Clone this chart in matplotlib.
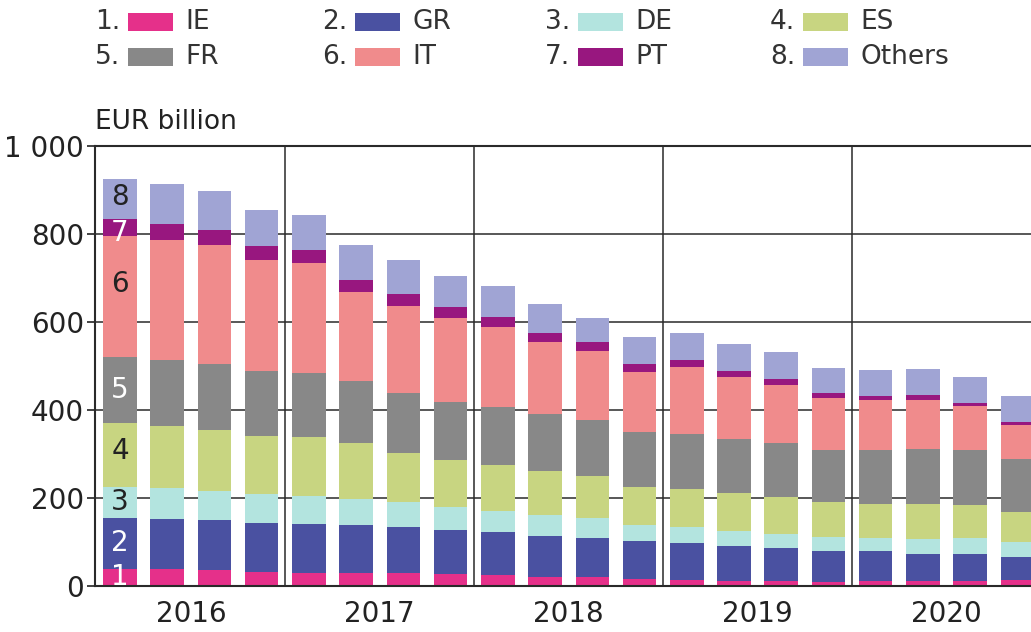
import matplotlib
matplotlib.use("Agg")
import matplotlib.pyplot as plt
from matplotlib.patches import Rectangle
import numpy as np

years = ["2016", "2017", "2018", "2019", "2020"]
countries = ["IE", "GR", "DE", "ES", "FR", "IT", "PT", "Others"]
colors = ["#e5308a", "#4a51a1", "#b3e4df", "#c8d581", "#888888",
          "#f08b8c", "#98177f", "#a0a4d4"]
label_colors = ["white", "white", "#222222", "#222222", "white",
                "#222222", "white", "#222222"]

# quarterly values, EUR billion, 2016 Q1 .. 2020 Q4
IE = [39, 39, 36, 31, 30, 30, 29, 27, 25, 20, 20, 16, 14, 12, 11, 10, 11, 11, 12, 14]
GR = [116, 114, 114, 112, 111, 108, 106, 101, 98, 94, 89, 86, 83, 80, 75, 70, 69, 62, 60, 51]
DE = [71, 69, 67, 65, 64, 60, 55, 52, 48, 48, 45, 36, 36, 32, 32, 32, 30, 34, 36, 34]
ES = [145, 142, 138, 134, 133, 128, 113, 106, 104, 99, 95, 88, 87, 87, 84, 78, 77, 79, 76, 69]
FR = [150, 150, 149, 147, 146, 141, 136, 133, 132, 131, 129, 124, 125, 122, 124, 118, 121, 126, 124, 120]
IT = [275, 272, 272, 251, 250, 201, 198, 189, 181, 162, 157, 136, 152, 141, 131, 119, 114, 111, 100, 77]
PT = [37, 37, 34, 33, 30, 28, 26, 25, 23, 21, 20, 19, 16, 15, 14, 11, 9, 10, 9, 8]
Others = [91, 90, 87, 82, 79, 79, 78, 71, 71, 65, 55, 62, 62, 62, 61, 57, 60, 60, 58, 59]

series = [IE, GR, DE, ES, FR, IT, PT, Others]

fig = plt.figure(figsize=(10.31, 6.32), dpi=100)
ax = fig.add_axes([95 / 1031, 46 / 632, 946 / 1031, 440 / 632])

x = np.arange(len(IE))
bottom = np.zeros(len(IE))
for vals, c in zip(series, colors):
    ax.bar(x, vals, bottom=bottom, width=0.71, color=c, zorder=2)
    bottom += np.array(vals)

# numbers inside the first bar (fraction of the segment height)
frac = [0.5, 0.5, 0.5, 0.55, 0.5, 0.6, 0.2, 0.55]
base = 0
for i, vals in enumerate(series):
    mid = base + vals[0] * frac[i]
    ax.text(0, mid, str(i + 1), ha="center", va="center", fontsize=20,
            color=label_colors[i], zorder=3)
    base += vals[0]

ax.set_ylim(0, 1000)
ax.set_xlim(-0.53, 19.5)
ax.set_yticks([0, 200, 400, 600, 800, 1000])
ax.set_yticklabels([f"{v:,}".replace(",", " ") for v in [0, 200, 400, 600, 800, 1000]])
ax.yaxis.grid(True, color="#2a2a2a", linewidth=1.1, zorder=0)
ax.set_axisbelow(True)
for b in [3.5, 7.5, 11.5, 15.5]:
    ax.axvline(b, color="#2a2a2a", linewidth=1.1, zorder=0)

ax.set_xticks([1.5, 5.5, 9.5, 13.5, 17.5])
ax.set_xticklabels(years)
ax.tick_params(axis="x", length=0, pad=10, labelsize=20, colors="#222222")
ax.tick_params(axis="y", length=6, width=1.2, pad=2, labelsize=20, colors="#222222")
for s in ["left", "bottom", "top"]:
    ax.spines[s].set_linewidth(1.5)
    ax.spines[s].set_color("#2a2a2a")
ax.spines["right"].set_visible(False)

fig.text(95 / 1031, 1 - 122 / 632, "EUR billion", fontsize=19, va="center",
         ha="left", color="#222222")

# legend built by hand: "n. [patch] name"
col_x = [95, 322, 545, 770]
row_y = [22, 57]
for i, (name, c) in enumerate(zip(countries, colors)):
    cx = col_x[i % 4]
    cy = row_y[i // 4]
    fig.text(cx / 1031, 1 - cy / 632, f"{i + 1}.", fontsize=19, va="center",
             ha="left", color="#333333")
    fig.patches.append(Rectangle(((cx + 33) / 1031, 1 - (cy + 9) / 632),
                                 45 / 1031, 18 / 632, transform=fig.transFigure,
                                 facecolor=c, edgecolor="none"))
    fig.text((cx + 90) / 1031, 1 - cy / 632, name, fontsize=19, va="center",
             ha="left", color="#333333")

fig.savefig("out.png", dpi=100)
